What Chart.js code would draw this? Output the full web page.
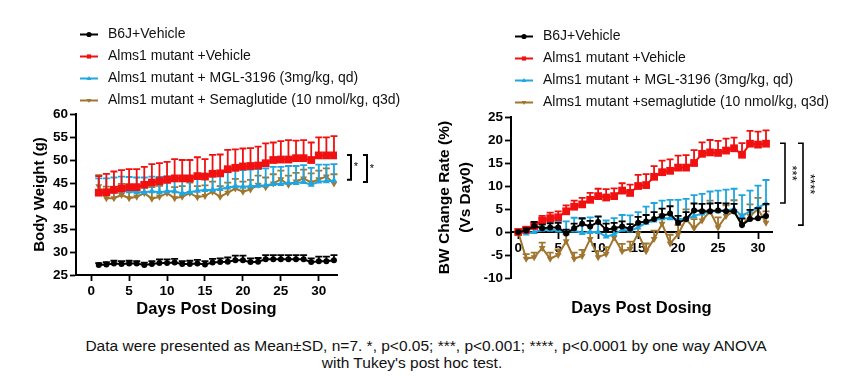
<!DOCTYPE html>
<html>
<head>
<meta charset="utf-8">
<script src="https://cdn.jsdelivr.net/npm/chart.js@4.4.1/dist/chart.umd.min.js"></script>
<style>
  body { margin: 0; background: #fff; width: 860px; height: 386px; position: relative; overflow: hidden; font-family: 'Liberation Sans', Arial, sans-serif; }
  canvas { position: absolute; top: 0; }
  #left { left: 0; }
  #right { left: 430px; }
  .note { position: absolute; font-size: 15.5px; line-height: 17px; color: #111; text-align: center; white-space: nowrap; }
</style>
</head>
<body>
<canvas id="left" width="430" height="330"></canvas>
<canvas id="right" width="430" height="330"></canvas>
<div class="note" style="left:0; width:852px; top:337px;">Data were presented as Mean±SD, n=7. *, p&lt;0.05; ***, p&lt;0.001; ****, p&lt;0.0001 by one way ANOVA</div>
<div class="note" style="left:0; width:824px; top:354px;">with Tukey's post hoc test.</div>
<script>
const groupLabels = ['B6J+Vehicle', 'Alms1 mutant +Vehicle', 'Alms1 mutant + MGL-3196 (3mg/kg, qd)', 'Alms1 mutant + Semaglutide (10 nmol/kg, q3d)'];
const groupLabelsRight = ['B6J+Vehicle', 'Alms1 mutant +Vehicle', 'Alms1 mutant + MGL-3196 (3mg/kg, qd)', 'Alms1 mutant +semaglutide (10 nmol/kg, q3d)'];

// body weight, days 1..32
const bwDays = [1,2,3,4,5,6,7,8,9,10,11,12,13,14,15,16,17,18,19,20,21,22,23,24,25,26,27,28,29,30,31,32];
const bwB6J = [27.2,27.3,27.5,27.4,27.5,27.5,27.2,27.4,27.6,27.6,27.7,27.4,27.4,27.5,27.3,27.7,27.8,27.9,28.2,28.2,27.8,27.9,28.4,28.4,28.4,28.4,28.4,28.4,27.8,28.0,28.0,28.2];
const bwB6JSd = [0.4,0.5,0.6,0.6,0.6,0.5,0.5,0.6,0.8,0.8,0.8,0.6,0.7,0.8,0.7,0.8,0.8,0.9,1.0,1.0,0.8,0.8,0.9,0.9,0.9,0.9,0.9,0.9,0.8,1.0,1.0,1.1];
const bwVeh = [42.9,43.0,43.5,43.8,44.1,44.1,44.6,45.1,45.4,45.7,46.0,46.0,46.0,46.5,46.4,47.0,47.1,48.0,48.3,48.6,48.7,48.8,49.3,50.0,50.1,50.1,50.4,50.4,50.0,51.0,51.0,51.0];
const bwVehSd = [3.6,4.0,4.0,4.0,3.9,3.9,3.9,4.0,3.9,3.9,4.2,4.0,4.0,4.1,3.8,4.1,4.1,4.2,4.0,3.9,3.9,4.1,4.3,3.8,4.0,4.2,3.8,3.9,3.8,3.9,3.9,4.2];
const bwMgl = [43.0,43.0,43.2,43.3,43.2,43.0,43.0,43.2,43.0,43.2,43.2,42.7,43.0,43.3,43.5,43.5,43.7,44.0,44.3,44.2,44.3,44.4,44.5,44.8,44.8,45.0,45.0,45.2,44.6,45.3,45.4,45.5];
const bwMglSd = [3.0,3.0,3.0,3.1,3.1,3.2,3.2,3.2,3.3,3.3,3.3,3.4,3.4,3.4,3.4,3.5,3.5,3.5,3.6,3.6,3.6,3.6,3.7,3.7,3.7,3.7,3.7,3.7,3.7,3.7,3.6,3.6];
const bwSema = [44.3,41.7,41.7,42.4,41.7,42.0,42.8,41.6,42.0,42.8,41.7,42.0,42.8,41.9,42.2,43.1,42.0,42.9,43.8,43.1,43.6,44.6,44.1,44.9,45.8,44.6,45.3,46.0,45.1,45.8,46.4,44.9];
const bwSemaSd = [2.4,2.5,2.5,2.4,2.5,2.4,2.3,2.5,2.4,2.3,2.4,2.3,2.3,2.4,2.3,2.2,2.3,2.2,2.1,2.2,2.1,2.0,2.1,2.0,1.9,2.0,1.9,1.9,2.0,1.9,1.8,2.0];

// BW change rate vs day 0, days 0..31
const chgDays = [0,1,2,3,4,5,6,7,8,9,10,11,12,13,14,15,16,17,18,19,20,21,22,23,24,25,26,27,28,29,30,31];
const chgB6J = [0,0.3,1.3,0.8,1.0,1.0,-0.3,0.8,1.8,1.2,2.2,0.5,0.8,1.2,0.7,2.0,2.3,2.8,3.5,4.0,2.0,2.8,4.7,4.5,4.5,4.7,4.5,4.5,1.5,2.8,3.0,3.5];
const chgB6JSd = [0,0.5,0.9,0.8,0.9,1.0,0.8,1.0,1.2,1.2,1.2,1.3,1.2,1.1,1.0,1.3,1.4,1.5,1.6,1.6,1.5,1.5,1.5,1.6,1.7,1.6,1.7,1.6,1.4,2.0,2.2,2.6];
const chgVeh = [0,0.5,1.3,2.5,3.0,3.2,4.5,5.5,6.0,7.0,7.8,7.5,7.8,9.0,8.5,10.0,10.2,12.0,13.0,13.3,14.0,14.0,15.0,17.0,17.3,17.2,17.7,18.2,16.8,19.2,19.0,19.2];
const chgVehSd = [0,0.5,0.8,1.0,1.2,1.3,1.3,1.3,1.4,1.5,1.6,1.8,1.7,1.6,1.8,2.4,2.4,2.3,2.5,2.5,2.6,2.7,2.8,2.5,2.7,2.6,2.6,2.3,2.5,2.8,2.8,2.9];
const chgMgl = [0,-0.3,0,0.5,0.5,0.3,0,0.3,-0.2,0,0,-1.0,-0.5,0.5,0.3,1.0,2.0,2.5,3.0,3.0,2.8,2.8,3.5,4.0,4.5,4.5,4.7,5.0,3.5,4.5,5.3,6.2];
const chgMglSd = [0,0.8,1.0,1.5,1.8,2.0,2.3,2.8,3.0,3.2,3.3,3.5,3.5,3.2,3.3,3.3,3.5,3.8,3.8,4.0,4.2,4.4,4.5,4.3,4.3,4.5,4.5,4.4,4.5,4.5,4.8,5.1];
const chgSema = [0,-5.8,-5.5,-3.5,-5.8,-5.0,-2.0,-5.8,-5.2,-1.5,-5.5,-4.8,-1.2,-4.2,-3.7,-0.3,-4.2,-1.5,1.8,-2.5,-0.5,2.8,0.8,2.5,4.5,1.0,3.5,4.5,1.5,3.5,5.0,2.0];
const chgSemaSd = [0,1.0,1.0,1.2,1.3,1.2,1.5,1.3,1.3,1.5,1.4,1.5,1.7,1.6,1.6,1.8,1.7,1.8,2.0,1.9,2.0,2.1,2.0,2.2,2.3,2.2,2.3,2.4,2.3,2.5,2.4,2.5];

const dayTicks = [0, 5, 10, 15, 20, 25, 30];

const FONT = "'Liberation Sans', Arial, sans-serif";
const colors = ['#000000', '#f01010', '#1ea6df', '#a0752e'];
const styles = [
  { pointStyle: 'circle', radius: 3, rotation: 0 },
  { pointStyle: 'rect', radius: 5.5, rotation: 0 },
  { pointStyle: 'triangle', radius: 4, rotation: 0 },
  { pointStyle: 'triangle', radius: 4, rotation: 180 },
];

Chart.defaults.color = '#000';
Chart.defaults.font.family = FONT;

function makeDataset(i, label, xs, ys, sd) {
  return {
    label,
    data: xs.map((x, k) => ({ x, y: ys[k] })),
    sd,
    borderColor: colors[i],
    backgroundColor: colors[i],
    borderWidth: 2,
    pointStyle: styles[i].pointStyle,
    pointRadius: styles[i].radius,
    pointRotation: styles[i].rotation,
    pointBorderWidth: 0,
    tension: 0,
  };
}

// error bars (upper only, capped), drawn just before each line
const errorBars = {
  id: 'errorBars',
  beforeDatasetDraw(chart, args) {
    const ds = chart.data.datasets[args.index];
    const yScale = chart.scales.y;
    const ctx = chart.ctx;
    ctx.save();
    ctx.strokeStyle = ds.borderColor;
    ctx.lineWidth = 1.8;
    args.meta.data.forEach((pt, k) => {
      const s = ds.sd[k];
      if (!s) return;
      const top = yScale.getPixelForValue(ds.data[k].y + s);
      ctx.beginPath();
      ctx.moveTo(pt.x, pt.y);
      ctx.lineTo(pt.x, top);
      ctx.moveTo(pt.x - 3.5, top);
      ctx.lineTo(pt.x + 3.5, top);
      ctx.stroke();
    });
    ctx.restore();
  }
};

function marker(ctx, style, x, y, r) {
  ctx.beginPath();
  if (style.pointStyle === 'circle') {
    ctx.arc(x, y, r, 0, Math.PI * 2);
  } else if (style.pointStyle === 'rect') {
    ctx.rect(x - r * 0.7, y - r * 0.7, r * 1.4, r * 1.4);
  } else {
    const d = style.rotation ? -1 : 1;
    ctx.moveTo(x, y - d * r);
    ctx.lineTo(x + r * 0.9, y + d * r * 0.6);
    ctx.lineTo(x - r * 0.9, y + d * r * 0.6);
    ctx.closePath();
  }
  ctx.fill();
}

const stackLegend = {
  id: 'stackLegend',
  afterDraw(chart, args, opts) {
    const ctx = chart.ctx;
    ctx.save();
    ctx.font = '14px ' + FONT;
    ctx.textBaseline = 'middle';
    chart.data.datasets.forEach((ds, i) => {
      const y = opts.y + i * opts.gap;
      ctx.strokeStyle = ds.borderColor;
      ctx.fillStyle = ds.borderColor;
      ctx.lineWidth = 2;
      ctx.beginPath();
      ctx.moveTo(opts.x, y);
      ctx.lineTo(opts.x + 18, y);
      ctx.stroke();
      marker(ctx, styles[i], opts.x + 9, y, i === 1 ? 3 : 2.6);
      ctx.fillStyle = '#111';
      ctx.fillText(ds.label, opts.x + 28, y);
    });
    ctx.restore();
  }
};

// significance brackets beside the plot, ends placed on y values
const sigBrackets = {
  id: 'sigBrackets',
  afterDraw(chart, args, opts) {
    const ctx = chart.ctx;
    const yScale = chart.scales.y;
    const right = chart.chartArea.right;
    ctx.save();
    ctx.strokeStyle = '#000';
    ctx.fillStyle = '#000';
    opts.items.forEach(b => {
      const x = right + b.dx;
      const y1 = yScale.getPixelForValue(b.from);
      const y2 = yScale.getPixelForValue(b.to);
      ctx.lineWidth = b.width;
      ctx.beginPath();
      ctx.moveTo(x - b.arm, y1);
      ctx.lineTo(x, y1);
      ctx.lineTo(x, y2);
      ctx.lineTo(x - b.arm, y2);
      ctx.stroke();
      ctx.font = b.font + 'px ' + FONT;
      ctx.textAlign = 'center';
      ctx.textBaseline = 'middle';
      const ym = (y1 + y2) / 2;
      if (b.rotate) {
        ctx.save();
        ctx.translate(x + b.tx, ym);
        ctx.rotate(Math.PI / 2);
        ctx.fillText(b.text, 0, 0);
        ctx.restore();
      } else {
        ctx.fillText(b.text, x + b.tx, ym);
      }
    });
    ctx.restore();
  }
};

function axisCommon() {
  return {
    grid: { drawOnChartArea: false, drawTicks: true, tickLength: 6, tickColor: '#000', tickWidth: 1.8 },
    border: { color: '#000', width: 2 },
    ticks: { font: { size: 13.5, weight: 'bold' }, color: '#000', padding: 2 },
  };
}

new Chart(document.getElementById('left'), {
  type: 'line',
  data: {
    datasets: [
      makeDataset(0, groupLabels[0], bwDays, bwB6J, bwB6JSd),
      makeDataset(1, groupLabels[1], bwDays, bwVeh, bwVehSd),
      makeDataset(2, groupLabels[2], bwDays, bwMgl, bwMglSd),
      makeDataset(3, groupLabels[3], bwDays, bwSema, bwSemaSd),
    ]
  },
  options: {
    responsive: false,
    animation: false,
    layout: { padding: { top: 114, right: 93, left: 0, bottom: 0 } },
    plugins: {
      legend: { display: false },
      tooltip: { enabled: false },
      stackLegend: { x: 80, y: 34.5, gap: 22 },
      sigBrackets: { items: [
        { from: 51.1, to: 45.7, dx: 14, arm: 4, width: 2, text: '*', tx: 5, font: 11 },
        { from: 51.1, to: 45.2, dx: 30, arm: 4, width: 2, text: '*', tx: 5, font: 11 },
      ] },
    },
    scales: {
      x: {
        type: 'linear', min: -2, max: 32.4,
        ...axisCommon(),
        afterBuildTicks: s => { s.ticks = dayTicks.map(v => ({ value: v })); },
        afterFit: s => { s.height = 55; },
        title: { display: true, text: 'Days Post Dosing', font: { size: 16.5, weight: 'bold' }, padding: { top: 0, bottom: 11 } },
      },
      y: {
        type: 'linear', min: 25, max: 60,
        ...axisCommon(),
        ticks: { font: { size: 13.5, weight: 'bold' }, color: '#000', padding: 2, stepSize: 5 },
        afterFit: s => { s.width = 76; },
        title: { display: true, text: 'Body Weight (g)', font: { size: 15, weight: 'bold' }, padding: { top: 31, bottom: 0 } },
      },
    },
  },
  plugins: [errorBars, stackLegend, sigBrackets],
});

new Chart(document.getElementById('right'), {
  type: 'line',
  data: {
    datasets: [
      makeDataset(0, groupLabelsRight[0], chgDays, chgB6J, chgB6JSd),
      makeDataset(1, groupLabelsRight[1], chgDays, chgVeh, chgVehSd),
      makeDataset(2, groupLabelsRight[2], chgDays, chgMgl, chgMglSd),
      makeDataset(3, groupLabelsRight[3], chgDays, chgSema, chgSemaSd),
    ]
  },
  options: {
    responsive: false,
    animation: false,
    layout: { padding: { top: 117, right: 88, left: 0, bottom: 0 } },
    plugins: {
      legend: { display: false },
      tooltip: { enabled: false },
      stackLegend: { x: 85, y: 36.5, gap: 22 },
      sigBrackets: { items: [
        { from: 19.3, to: 6.3, dx: 13, arm: 5, width: 1.6, text: '***', tx: 7, font: 13, rotate: true },
        { from: 19.3, to: 1.5, dx: 31, arm: 5, width: 1.6, text: '****', tx: 7, font: 13, rotate: true },
      ] },
    },
    scales: {
      x: {
        type: 'linear', min: -0.9, max: 31.75,
        position: { y: 0 },
        ...axisCommon(),
        afterBuildTicks: s => { s.ticks = dayTicks.map(v => ({ value: v })); },
      },
      x2: {
        type: 'linear', axis: 'x', position: 'bottom', min: -0.9, max: 31.75,
        grid: { display: false, drawTicks: false },
        border: { display: false },
        ticks: { display: false },
        afterFit: s => { s.height = 52; },
        title: { display: true, text: 'Days Post Dosing', font: { size: 16.5, weight: 'bold' }, padding: { top: 0, bottom: 12 } },
      },
      y: {
        type: 'linear', min: -10, max: 25,
        ...axisCommon(),
        ticks: { font: { size: 13.5, weight: 'bold' }, color: '#000', padding: 2, stepSize: 5 },
        afterFit: s => { s.width = 81; },
        title: { display: true, text: ['BW Change Rate (%)', '(Vs Day0)'], font: { size: 15.5, weight: 'bold', lineHeight: 1.3 }, padding: { top: 5, bottom: 0 } },
      },
    },
  },
  plugins: [errorBars, stackLegend, sigBrackets],
});
</script>
</body>
</html>
